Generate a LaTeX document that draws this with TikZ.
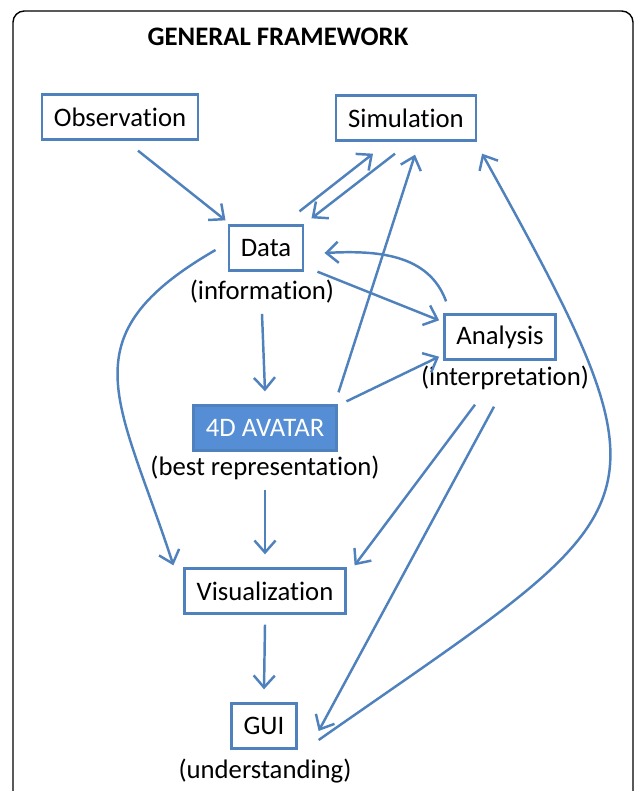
\documentclass[tikz,border=0pt]{standalone}
\usepackage{fontspec}
\setmainfont{Carlito}[Ligatures=CommonOff]
\usepackage{tikz}
\usetikzlibrary{arrows.meta,positioning,calc}

\definecolor{lineblue}{RGB}{79,129,189}
\definecolor{avatarblue}{RGB}{85,142,213}

\begin{document}
\begin{tikzpicture}[x=0.025cm, y=-0.025cm,
        % Styles for boxes, labels and connectors
        box/.style={draw=lineblue, line width=1.8pt, minimum height=1.12cm, inner xsep=0.3cm, font=\fontsize{19}{23}\selectfont},
        avatarbox/.style={box, fill=avatarblue, text=white},
        caption/.style={inner sep=0pt, font=\fontsize{19}{23}\selectfont},
        arrow/.style={-{Straight Barb[length=8.5pt, width=15pt]}, draw=lineblue, line width=1.75pt},
        frame/.style={draw=black, line width=1pt, rounded corners=8pt}
      ]

      \useasboundingbox (0,0) rectangle (637,791);

      % Outer frame, open at the bottom
      \draw[frame] (13,791) |- (633,11) -- (633,791);

      % Title
      \node[caption, font=\bfseries\fontsize{19}{23}\selectfont] (title) at (278,37) {GENERAL FRAMEWORK};

      % Main boxes
      \node[box] (obs) at (120,117) {Observation};
      \node[box] (sim) at (406,118) {Simulation};
      \node[box] (data) at (266,248) {Data};
      \node[box] (ana) at (500,337) {Analysis};
      \node[avatarbox] (avatar) at (265,428) {4D AVATAR};
      \node[box] (vis) at (265,591) {Visualization};
      \node[box] (gui) at (264,726) {GUI};

      % Captions under the boxes
      \node[caption] (info) at (262,292) {(information)};
      \node[caption] (interp) at (505,378) {(interpretation)};
      \node[caption] (best) at (265,468) {(best representation)};
      \node[caption] (under) at (265,771) {(understanding)};

      % Vertical chain down the middle
      \foreach \from/\to in {info/avatar, best/vis, vis/gui} {
        \draw[arrow] ($(\from.south)+(0,10)$) -- ($(\to.north)+(0,-13)$);
      }

      % Observation and simulation feed the data
      \draw[arrow] ($(obs.south)+(18,10)$) -- ($(data.north west)+(-2,-4)$);
      \draw[arrow] ($(data.north east)+(-5,-13)$) -- ($(sim.south)+(-33,12)$);
      \draw[arrow] ($(sim.south)+(-11,12)$) -- ($(data.north east)+(7,-6)$);
      \draw[arrow] ($(avatar.north east)+(1,-12)$) -- ($(sim.south)+(9,13)$);

      % Data <-> analysis
      \draw[arrow] ($(data.south east)+(13,0)$) -- ($(ana.north west)+(-4,7)$);
      \draw[arrow] ($(ana.north west)+(3,-12)$) to[out=110, in=3] ($(data.east)+(20,5)$);
      \draw[arrow] ($(avatar.north east)+(9,-3)$) -- ($(ana.south west)+(-4,-4)$);

      % Analysis down to visualization and GUI
      \draw[arrow] ($(ana.south)+(-25,44)$) -- ($(vis.north east)+(8,-2)$);
      \draw[arrow] ($(ana.south)+(-6,46)$) -- ($(gui.east)+(21,5)$);

      % Long curved connectors
      \draw[arrow] ($(data.west)+(-12,2)$) to[out=-150, in=108, looseness=1.4] ($(vis.north west)+(-10,-2)$);
      \draw[arrow] ($(gui.east)+(21,14)$) to[out=35, in=-61, looseness=1.75] ($(sim.south east)+(5,12)$);

    \end{tikzpicture}
\end{document}
